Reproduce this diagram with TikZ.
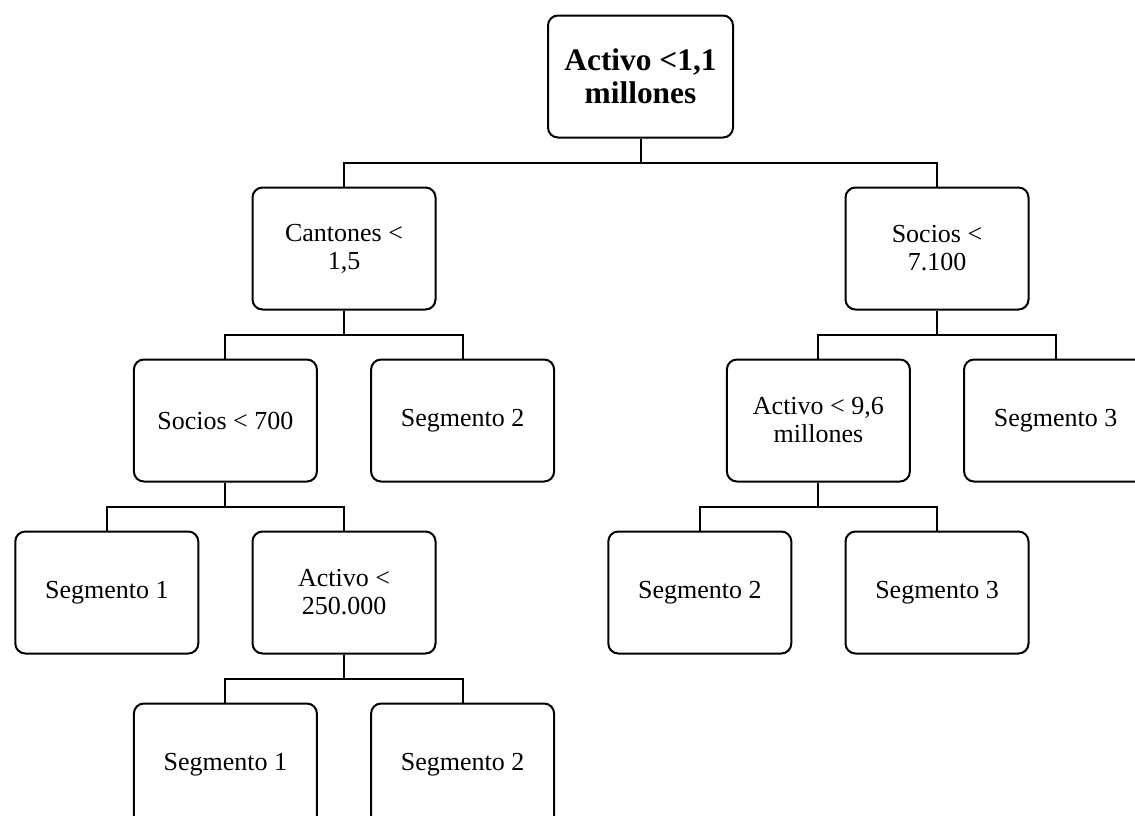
\documentclass[tikz,border=0pt]{standalone}
\usepackage{fontspec}
\setmainfont{Liberation Serif}
\usetikzlibrary{positioning}

\begin{document}
\begin{tikzpicture}[node distance=24pt,
        box/.style={draw, line width=1pt, rounded corners=5pt, minimum width=91.5pt, minimum height=61pt,
            align=center, inner sep=2pt, font=\fontsize{13}{14}\selectfont},
        elbow/.style={to path={-- ++(0,-12pt) -| (\tikztotarget)}}]
        \useasboundingbox (0,0) rectangle (567.5pt,-407.5pt);

        \node (n0) [box, minimum width=92.5pt, font=\fontsize{15.7}{16.5}\selectfont\bfseries] at (320.25pt,-38.25pt) {Activo <1,1\\millones};
        \node (n1) [box, below = of n0, xshift=-148.25pt] {Cantones <\\1,5};
        \node (n2) [box, below = of n0, xshift=148.25pt] {Socios <\\7.100};
        \node (n3) [box, below = of n1, xshift=-59.3pt] {Socios < 700};
        \node (n4) [box, below = of n1, xshift=59.3pt] {Segmento 2};
        \node (n5) [box, below = of n2, xshift=-59.3pt] {Activo < 9,6\\millones};
        \node (n6) [box, below = of n2, xshift=59.3pt] {Segmento 3};
        \node (n7) [box, below = of n3, xshift=-59.3pt] {Segmento 1};
        \node (n8) [box, below = of n3, xshift=59.3pt] {Activo <\\250.000};
        \node (n9) [box, below = of n5, xshift=-59.3pt] {Segmento 2};
        \node (n10) [box, below = of n5, xshift=59.3pt] {Segmento 3};
        \node (n11) [box, below = of n8, xshift=-59.3pt] {Segmento 1};
        \node (n12) [box, below = of n8, xshift=59.3pt] {Segmento 2};

        \path [line width=1pt]
        (n0.south) edge [elbow] (n1.north)
        (n0.south) edge [elbow] (n2.north)
        (n1.south) edge [elbow] (n3.north)
        (n1.south) edge [elbow] (n4.north)
        (n2.south) edge [elbow] (n5.north)
        (n2.south) edge [elbow] (n6.north)
        (n3.south) edge [elbow] (n7.north)
        (n3.south) edge [elbow] (n8.north)
        (n5.south) edge [elbow] (n9.north)
        (n5.south) edge [elbow] (n10.north)
        (n8.south) edge [elbow] (n11.north)
        (n8.south) edge [elbow] (n12.north);
    \end{tikzpicture}
\end{document}
